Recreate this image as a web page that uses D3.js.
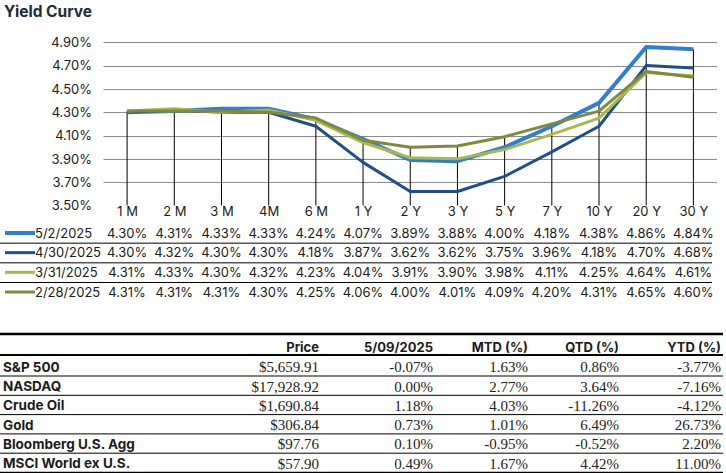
<!DOCTYPE html>
<html lang="en">
<head>
<meta charset="UTF-8">
<title>Yield Curve</title>
<script src="https://d3js.org/d3.v7.min.js"></script>
<style>
  html, body { margin: 0; background: #fff; }
  svg { display: block; }
  .sans { font-family: Inter, "Liberation Sans", sans-serif; }
  .serif { font-family: "Liberation Serif", "DejaVu Serif", serif; }
</style>
</head>
<body>
<svg id="chart" width="726" height="473"></svg>
<script>
// ---- data ----
const tenors = ['1 M', '2 M', '3 M', '4M', '6 M', '1 Y', '2 Y', '3 Y', '5 Y', '7 Y', '10 Y', '20 Y', '30 Y'];
const seriesNames = ['5/2/2025', '4/30/2025', '3/31/2025', '2/28/2025'];
const may2 = [4.30, 4.31, 4.33, 4.33, 4.24, 4.07, 3.89, 3.88, 4.00, 4.18, 4.38, 4.86, 4.84];
const apr30 = [4.30, 4.32, 4.30, 4.30, 4.18, 3.87, 3.62, 3.62, 3.75, 3.96, 4.18, 4.70, 4.68];
const mar31 = [4.31, 4.33, 4.30, 4.32, 4.23, 4.04, 3.91, 3.90, 3.98, 4.11, 4.25, 4.64, 4.61];
const feb28 = [4.31, 4.31, 4.31, 4.30, 4.25, 4.06, 4.00, 4.01, 4.09, 4.20, 4.31, 4.65, 4.60];
const yTicks = [3.50, 3.70, 3.90, 4.10, 4.30, 4.50, 4.70, 4.90];

const assets = ['S&P 500', 'NASDAQ', 'Crude Oil', 'Gold', 'Bloomberg U.S. Agg', 'MSCI World ex U.S.'];
const tableHeaders = ['Price', '5/09/2025', 'MTD (%)', 'QTD (%)', 'YTD (%)'];
const prices = ['$5,659.91', '$17,928.92', '$1,690.84', '$306.84', '$97.76', '$57.90'];
const dayChg = ['-0.07%', '0.00%', '1.18%', '0.73%', '0.10%', '0.49%'];
const mtd = ['1.63%', '2.77%', '4.03%', '1.01%', '-0.95%', '1.67%'];
const qtd = ['0.86%', '3.64%', '-11.26%', '6.49%', '-0.52%', '4.42%'];
const ytd = ['-3.77%', '-7.16%', '-4.12%', '26.73%', '2.20%', '11.00%'];

const seriesValues = [may2, apr30, mar31, feb28];
const colors = ['#2e7ed3', '#1f4e8b', '#a8b84b', '#7f8a3b'];
const widths = [4, 3, 3, 3];

const svg = d3.select('#chart');

// title
svg.append('text').attr('class', 'sans')
  .attr('x', 4).attr('y', 17)
  .attr('font-size', 15.5).attr('font-weight', 700).attr('fill', '#1d2b3a')
  .text('Yield Curve');

// ---- scales ----
const x = d3.scalePoint().domain(tenors).range([103.5, 717]).padding(0.5);
const y = d3.scaleLinear().domain([3.5, 4.9]).range([205.5, 42.3]);

// gridlines
svg.append('g').selectAll('line')
  .data(yTicks.filter(t => t > 3.5))
  .join('line')
  .attr('x1', 103.5).attr('x2', 717)
  .attr('y1', d => Math.round(y(d)) + 0.5).attr('y2', d => Math.round(y(d)) + 0.5)
  .attr('stroke', '#8a8a8a').attr('stroke-width', 1);

// y axis labels
const yAxis = d3.axisLeft(y).tickValues(yTicks).tickSize(0).tickPadding(0)
  .tickFormat(d => d.toFixed(2) + '%');
svg.append('g').attr('transform', 'translate(92,0)').call(yAxis)
  .call(g => g.select('.domain').remove())
  .call(g => g.selectAll('text').attr('font-size', 13)
    .attr('fill', '#1a1a1a').attr('font-family', 'Inter, sans-serif'));

// drop lines from the highest point to the axis
svg.append('g').selectAll('line')
  .data(tenors)
  .join('line')
  .attr('x1', d => x(d)).attr('x2', d => x(d))
  .attr('y1', (d, i) => y(d3.max(seriesValues, s => s[i])))
  .attr('y2', 205.5)
  .attr('stroke', '#000').attr('stroke-width', 1);

// x labels
const xAxis = d3.axisBottom(x).tickSize(0).tickPadding(0);
svg.append('g').attr('transform', 'translate(0,207)').call(xAxis)
  .call(g => g.select('.domain').remove())
  .call(g => g.selectAll('text').attr('font-size', 13).attr('fill', '#1a1a1a')
    .attr('font-family', 'Inter, sans-serif'));

// series lines
const line = d3.line().x((d, i) => x(tenors[i])).y(d => y(d));
svg.append('g').selectAll('path')
  .data(seriesValues)
  .join('path')
  .attr('d', line)
  .attr('fill', 'none')
  .attr('stroke', (d, i) => colors[i])
  .attr('stroke-width', (d, i) => widths[i])
  .attr('stroke-linejoin', 'round');

// ---- data table under the chart ----
const rowY = d3.scalePoint().domain(seriesNames).range([233, 292]);
const dt = svg.append('g');
seriesNames.forEach((name, k) => {
  const cy = rowY(name);
  if (k > 0) {
    dt.append('line').attr('x1', 0).attr('x2', 712)
      .attr('y1', cy - 9.5).attr('y2', cy - 9.5)
      .attr('stroke', '#000').attr('stroke-width', 1);
  }
  dt.append('line').attr('x1', 5).attr('x2', 35)
    .attr('y1', cy).attr('y2', cy)
    .attr('stroke', colors[k]).attr('stroke-width', widths[k]);
  dt.append('text').attr('class', 'sans')
    .attr('x', 35).attr('y', cy).attr('dy', '0.35em')
    .attr('font-size', 13).attr('fill', '#1a1a1a').text(name);
  dt.selectAll(null)
    .data(seriesValues[k])
    .join('text').attr('class', 'sans')
    .attr('x', (d, i) => x(tenors[i])).attr('y', cy).attr('dy', '0.35em')
    .attr('text-anchor', 'middle')
    .attr('font-size', 13).attr('fill', '#1a1a1a')
    .text(d => d.toFixed(2) + '%');
});

// ---- market table ----
const colRight = [319, 433, 528, 619, 721];
const columns = [prices, dayChg, mtd, qtd, ytd];
const mt = svg.append('g');
const rowsY = d3.scalePoint().domain(assets).range([367, 463.5]);

mt.append('line').attr('x1', 0).attr('x2', 723).attr('y1', 334).attr('y2', 334)
  .attr('stroke', '#000').attr('stroke-width', 2.5);
mt.append('line').attr('x1', 0).attr('x2', 723).attr('y1', 355).attr('y2', 355)
  .attr('stroke', '#000').attr('stroke-width', 2);
mt.append('line').attr('x1', 0).attr('x2', 723).attr('y1', 473).attr('y2', 473)
  .attr('stroke', '#000').attr('stroke-width', 2.5);

tableHeaders.forEach((h, c) => {
  mt.append('text').attr('class', 'sans')
    .attr('x', colRight[c]).attr('y', 347).attr('dy', '0.35em')
    .attr('text-anchor', 'end').attr('font-size', 13).attr('font-weight', 700)
    .attr('fill', '#1b1b1b').text(h);
});

assets.forEach((a, r) => {
  const cy = rowsY(a);
  if (r < assets.length - 1) {
    mt.append('line').attr('x1', 0).attr('x2', 723)
      .attr('y1', cy + 9).attr('y2', cy + 9)
      .attr('stroke', '#000').attr('stroke-width', 1);
  }
  mt.append('text').attr('class', 'sans')
    .attr('x', 3).attr('y', cy).attr('dy', '0.35em')
    .attr('font-size', 13.5).attr('font-weight', 700).attr('fill', '#1b1b1b')
    .text(a);
  columns.forEach((col, c) => {
    mt.append('text').attr('class', 'serif')
      .attr('x', colRight[c]).attr('y', cy).attr('dy', '0.35em')
      .attr('text-anchor', 'end').attr('font-size', 15).attr('fill', '#222')
      .text(col[r]);
  });
});
</script>
</body>
</html>
